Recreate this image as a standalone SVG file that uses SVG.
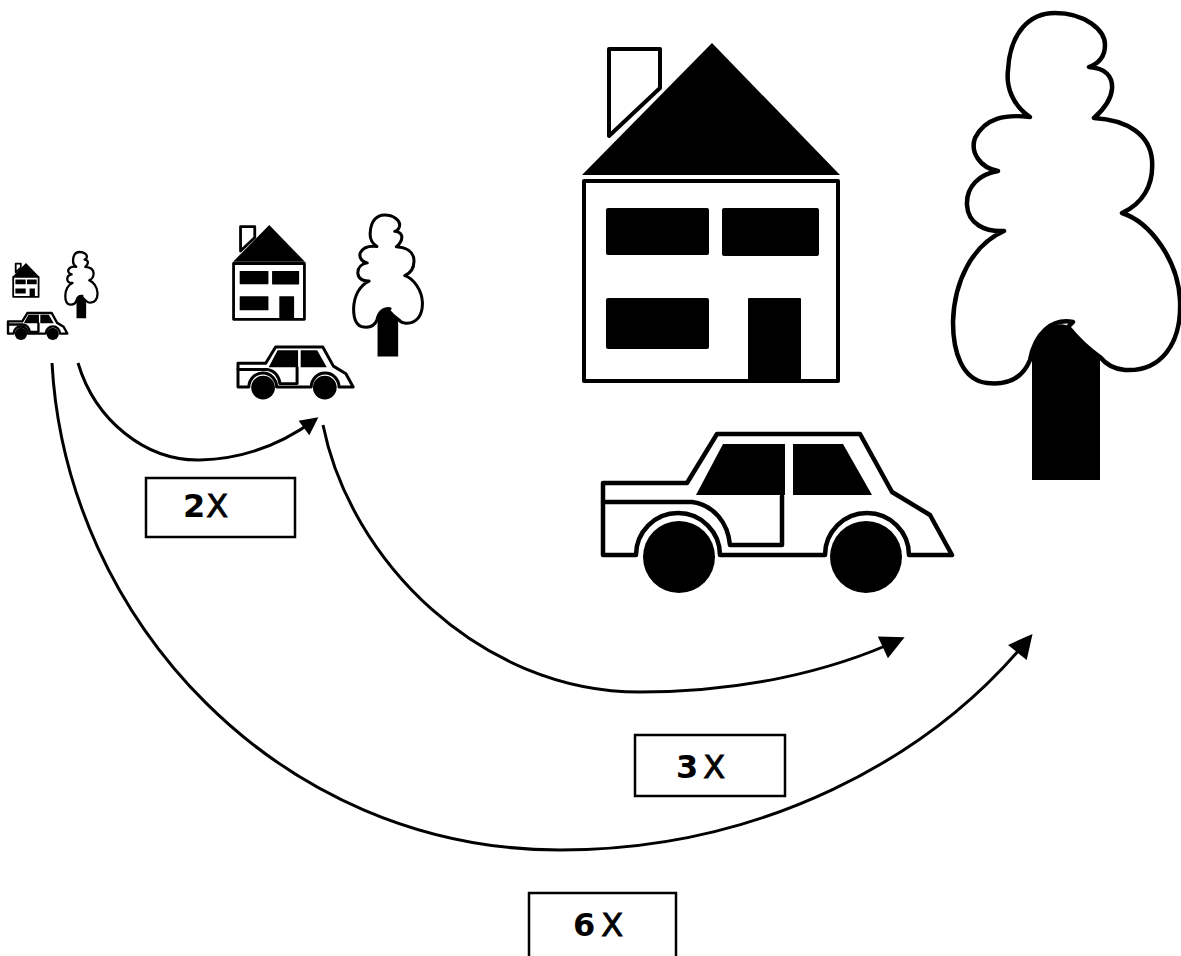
<svg xmlns="http://www.w3.org/2000/svg" xmlns:xlink="http://www.w3.org/1999/xlink" width="1181" height="956" viewBox="0 0 1181 956">
  <style>
    .ol{fill:#fff;stroke:#000;stroke-linejoin:round;stroke-linecap:round}
    .blk{fill:#000;stroke:none}
    .conn{fill:none;stroke:#000;stroke-width:3}
    .box{fill:#fff;stroke:#000;stroke-width:2.5}
    .lbl{font-family:"DejaVu Sans","Liberation Sans",sans-serif;font-size:32px;fill:#000}
    .num{font-weight:bold}
    .x{font-weight:normal;stroke:#000;stroke-width:0.9}
  </style>
  <defs>
    <marker id="head" markerUnits="userSpaceOnUse" markerWidth="40" markerHeight="40" refX="0" refY="0" orient="auto" overflow="visible">
      <path d="M4 0 L-20 -12 L-20 12 Z" fill="#000"/>
    </marker>
    <marker id="headS" markerUnits="userSpaceOnUse" markerWidth="30" markerHeight="30" refX="0" refY="0" orient="auto" overflow="visible">
      <path d="M3 0 L-15 -9 L-15 9 Z" fill="#000"/>
    </marker>

    <!-- house drawn at full size; smaller copies are scaled -->
    <g id="house">
      <path class="ol" d="M609 49 L660 49 L660 88 L609 136 Z"/>
      <path class="blk" d="M712 43 L840 175 L582 175 Z"/>
      <rect class="ol" x="584" y="181" width="254" height="200"/>
      <rect class="blk" x="606" y="208" width="103" height="47" rx="2"/>
      <rect class="blk" x="722" y="208" width="97" height="48" rx="2"/>
      <rect class="blk" x="606" y="298" width="103" height="51" rx="2"/>
      <rect class="blk" x="748" y="298" width="53" height="85" rx="1"/>
    </g>

    <!-- car -->
    <g id="car">
      <path class="ol" d="M603 483 L687 483 L717 434 L860 434 L892 492 L930 515 L952 555 L909 555 A42 42 0 0 0 825 555 L720 555 A42 42 0 0 0 636 555 L603 555 Z"/>
      <path class="ol" style="fill:none" d="M603 502 L692 502 C714 505 728 523 730 545 L782 545 L782 496"/>
      <path class="blk" d="M723 444 L785 444 L785 495 L696 495 Z"/>
      <path class="blk" d="M793 444 L843 444 L872 495 L793 495 Z"/>
      <circle class="blk" cx="679" cy="557" r="36"/>
      <circle class="blk" cx="866" cy="557" r="36"/>
    </g>

    <!-- tree -->
    <g id="tree">
      <path class="ol" d="M1030 360
        C1022 380 1005 385 987 383
        C962 380 953 352 953 322
        C954 282 972 245 1004 231
        C985 232 968 224 967 205
        C966 186 980 174 998 171
        C980 168 970 152 975 138
        C985 118 1005 114 1030 117
        C1012 105 1006 86 1008 70
        C1010 32 1030 13 1055 13
        C1085 13 1105 30 1105 45
        C1105 56 1100 63 1089 67
        C1105 68 1113 76 1112 89
        C1111 101 1103 110 1094 118
        C1128 120 1150 135 1152 160
        C1154 186 1142 204 1122 213
        C1150 222 1178 260 1180 300
        C1182 345 1160 372 1125 370
        C1112 369 1104 362 1100 357
        C1088 349 1077 338 1068 327
        L1073 322
        C1052 318 1035 333 1030 360 Z"/>
      <path class="blk" d="M1032 480 L1032 357 C1037 336 1050 321 1066 325 C1078 338 1090 350 1100 357 L1100 480 Z"/>
    </g>
  </defs>

  <!-- smallest set -->
  <g id="house-small"><use xlink:href="#house" stroke-width="18" transform="translate(13,263) scale(0.1) translate(-582,-43)"/></g>
  <g id="tree-small"><use xlink:href="#tree" stroke-width="16" transform="translate(65,252) scale(0.142) translate(-951,-13)"/></g>
  <g id="car-small"><use xlink:href="#car" stroke-width="14" transform="translate(8,313) scale(0.17) translate(-603,-434)"/></g>

  <!-- middle set -->
  <g id="house-mid"><use xlink:href="#house" stroke-width="10" transform="translate(233,225) scale(0.279) translate(-582,-43)"/></g>
  <g id="tree-mid"><use xlink:href="#tree" stroke-width="10" transform="translate(353,215) scale(0.303) translate(-951,-13)"/></g>
  <g id="car-mid"><use xlink:href="#car" stroke-width="9" transform="translate(238,347) scale(0.33) translate(-603,-434)"/></g>

  <!-- largest set -->
  <g id="house-large"><use xlink:href="#house" stroke-width="4"/></g>
  <g id="tree-large"><use xlink:href="#tree" stroke-width="4.5"/></g>
  <g id="car-large"><use xlink:href="#car" stroke-width="4.5"/></g>

  <!-- scaling arrows -->
  <g id="connectors">
    <path class="conn" marker-end="url(#headS)" d="M78 363 C95 420 145 461 200 460 C245 459 285 442 316 419"/>
    <path class="conn" marker-end="url(#head)" d="M323 425 C350 560 480 692 640 692 C740 692 830 672 901 639"/>
    <path class="conn" marker-end="url(#head)" d="M52 363 C66 620 279 850 560 850 C760 850 930 760 1030 637"/>
  </g>

  <!-- factor labels -->
  <g id="label-2x">
    <rect class="box" x="146" y="478" width="149" height="59"/>
    <text class="lbl" x="183" y="517"><tspan class="num">2</tspan><tspan class="x" dx="1">X</tspan></text>
  </g>
  <g id="label-3x">
    <rect class="box" x="635" y="735" width="150" height="61"/>
    <text class="lbl" x="676" y="778"><tspan class="num">3</tspan><tspan class="x" dx="5">X</tspan></text>
  </g>
  <g id="label-6x">
    <rect class="box" x="529" y="893" width="147" height="80"/>
    <text class="lbl" x="573" y="936"><tspan class="num">6</tspan><tspan class="x" dx="6">X</tspan></text>
  </g>
</svg>
